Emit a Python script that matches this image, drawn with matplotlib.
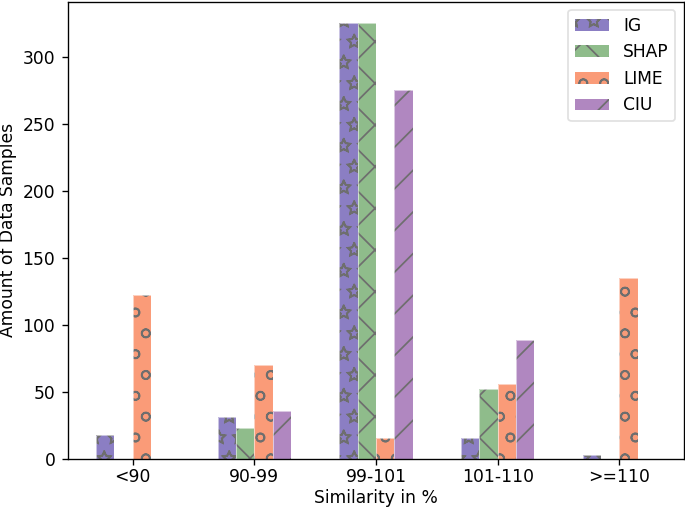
# grouped bar chart of similarity buckets per explainer
import numpy as np
import matplotlib.pyplot as plt
import matplotlib.hatch

# outline stars instead of filled ones
matplotlib.hatch.Stars.filled = False

# dpi 125 gives the hatch spacing of the original
plt.rcParams['font.family'] = 'DejaVu Sans'
plt.rcParams['font.size'] = 9.83
plt.rcParams['hatch.linewidth'] = 1.0
plt.rcParams['axes.linewidth'] = 0.78
plt.rcParams['xtick.major.width'] = 0.78
plt.rcParams['ytick.major.width'] = 0.78
plt.rcParams['xtick.major.size'] = 3.3
plt.rcParams['ytick.major.size'] = 3.3
plt.rcParams['xtick.major.pad'] = 2.1
plt.rcParams['ytick.major.pad'] = 4.0
plt.rcParams['legend.edgecolor'] = '0.85'

# data
categories = ['<90', '90-99', '99-101', '101-110', '>=110']
igVals = [18, 31, 325, 16, 3]
shapVals = [0, 23, 325, 52, 0]
limeVals = [122, 70, 16, 56, 135]
ciuVals = [0, 36, 275, 89, 0]

seriesNames = ['IG', 'SHAP', 'LIME', 'CIU']
seriesVals = [igVals, shapVals, limeVals, ciuVals]
seriesColors = ['#8b7ec3', '#8fbc8b', '#fa9b78', '#b087c0']
seriesHatch = ['*', 'x', 'o', '/']

hatchGray = '#6e6e6e'
barW = 0.15
dpi = 125

fig, ax = plt.subplots(figsize=(685/dpi, 511/dpi), dpi=dpi)
fig.subplots_adjust(left=0.0993, right=0.9985, top=0.997, bottom=0.1018)

x = np.arange(len(categories))
for i in range(len(seriesNames)):
    pos = x + (i - 1.5)*barW
    ax.bar(pos, seriesVals[i], barW, color=seriesColors[i], edgecolor=hatchGray,
           hatch=seriesHatch[i], linewidth=0, label=seriesNames[i])
    # light outline on top of the hatched bars
    ax.bar(pos, seriesVals[i], barW, fill=False, edgecolor=(1, 1, 1, 0.55), linewidth=0.6)

ax.set_xticks(x)
ax.set_xticklabels(categories)
ax.set_xlabel('Similarity in %', labelpad=1.6)
ax.set_ylabel('Amount of Data Samples', labelpad=3.4)
ax.legend(loc='upper right')

fig.savefig('out.png', dpi=dpi)
